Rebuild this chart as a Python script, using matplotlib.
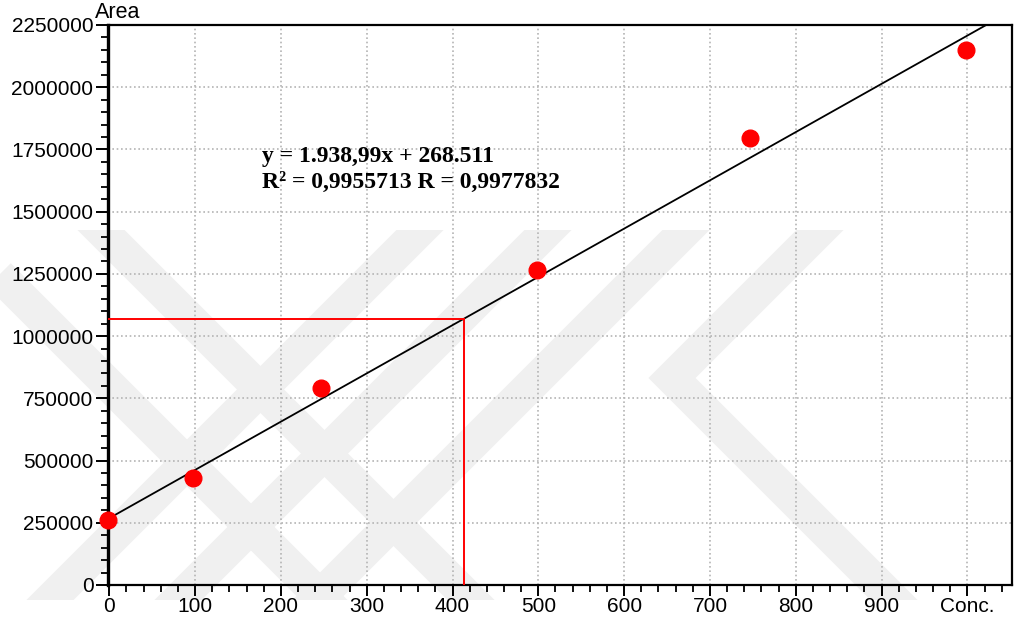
import numpy as np
import matplotlib.pyplot as plt
from matplotlib.lines import Line2D
from matplotlib.ticker import MultipleLocator, FixedLocator, FixedFormatter
from matplotlib.transforms import Bbox, IdentityTransform

# calibration standards (concentration vs peak area)
conc = [-2, 98, 247, 498, 747, 998]
area = [261000, 431000, 792000, 1265000, 1796000, 2150000]

# linear fit y = a*x + b
slope = 1938.99
intercept = 268511
sample_area = 1070000

x_ticks = [0, 100, 200, 300, 400, 500, 600, 700, 800, 900, 1000]
x_labels = ['0', '100', '200', '300', '400', '500', '600', '700', '800', '900', 'Conc.']
y_ticks = [0, 250000, 500000, 750000, 1000000, 1250000, 1500000, 1750000, 2000000, 2250000]

W, H = 1019, 622
fig = plt.figure(figsize=(W / 100, H / 100), dpi=100)
plt.rcParams['font.family'] = ['Liberation Sans', 'DejaVu Sans']

# faint diagonal background bands (pixel coords, y measured from top)
bands = [
    [(-90, 186), (500, 776)],
    [(41, 170), (560, 689)],
    [(480, 170), (10, 640)],
    [(608, 170), (138, 640)],
    [(746, 170), (276, 640)],
    [(880, 170), (672, 378), (934, 640)],
]
for pts in bands:
    xs = [p[0] for p in pts]
    ys = [H - p[1] for p in pts]
    ln = Line2D(xs, ys, transform=IdentityTransform(), color='#f0f0f0',
                lw=24, solid_joinstyle='miter', solid_capstyle='butt', zorder=-5)
    ln.set_clip_box(Bbox.from_extents(0, H - 600, W, H - 230))
    ln.set_clip_on(True)
    fig.add_artist(ln)

ax = fig.add_axes([108 / W, 37 / H, (1012 - 108) / W, (585 - 25) / H])
ax.set_facecolor('none')
ax.set_xlim(-1.5, 1052)
ax.set_ylim(0, 2250000)

ax.xaxis.set_major_locator(FixedLocator(x_ticks))
ax.xaxis.set_major_formatter(FixedFormatter(x_labels))
ax.xaxis.set_minor_locator(MultipleLocator(20))
ax.yaxis.set_major_locator(FixedLocator(y_ticks))
ax.yaxis.set_major_formatter(FixedFormatter([str(v) for v in y_ticks]))
ax.yaxis.set_minor_locator(MultipleLocator(50000))

ax.tick_params(axis='y', which='major', length=9, width=1.4, labelsize=15, pad=1.5)
ax.tick_params(axis='y', which='minor', length=5, width=1.3)
ax.tick_params(axis='x', which='major', length=8, width=1.4, labelsize=15, pad=1)
ax.tick_params(axis='x', which='minor', length=5, width=1.3)

for side in ['top', 'right', 'bottom']:
    ax.spines[side].set_linewidth(1.6)
ax.spines['left'].set_linewidth(2.4)

ax.grid(True, which='major', color='#b4b4b4', linestyle=(0, (1, 1.6)), linewidth=1.2)
ax.set_axisbelow(True)

# fitted line up to the top of the plot
x_end = (2250000 - intercept) / slope
fx = np.array([0, x_end])
ax.plot(fx, slope * fx + intercept, color='black', lw=1.3, zorder=3)

# sample read-off on the calibration line
x_sample = (sample_area - intercept) / slope
ax.plot([-1.5, x_sample], [sample_area, sample_area], color='#ff0000', lw=1.4, zorder=3)
ax.plot([x_sample, x_sample], [0, sample_area], color='#ff0000', lw=1.4, zorder=3)

ax.plot(conc, area, 'o', color='#ff0000', markersize=12, zorder=4, clip_on=False)

fig.text(95 / W, 1 - 13 / H, 'Area', fontsize=15.5, ha='left', va='center')

fig.text(262 / W, 1 - 162 / H, 'y = 1.938,99x + 268.511', fontsize=17,
         family=['Liberation Serif'], weight='bold', ha='left', va='baseline')
fig.text(262 / W, 1 - 188 / H, 'R\u00b2 = 0,9955713 R = 0,9977832', fontsize=17,
         family=['Liberation Serif'], weight='bold', ha='left', va='baseline')

fig.savefig('out.png', dpi=100)
